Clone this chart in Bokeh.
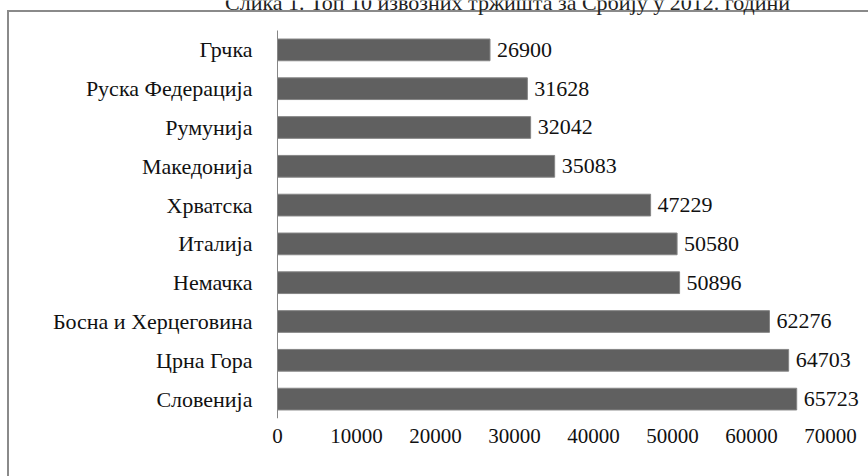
from bokeh.plotting import figure
from bokeh.models import ColumnDataSource, Range1d, Label, FixedTicker
from bokeh.core.properties import value
from bokeh.embed import file_html
from bokeh.resources import INLINE

title_text = "Слика 1. Топ 10 извозних тржишта за Србију у 2012. години"
countries = ["Грчка", "Руска Федерација", "Румунија", "Македонија", "Хрватска",
             "Италија", "Немачка", "Босна и Херцеговина", "Црна Гора", "Словенија"]
values = [26900, 31628, 32042, 35083, 47229, 50580, 50896, 62276, 64703, 65723]
x_ticks = [0, 10000, 20000, 30000, 40000, 50000, 60000, 70000]

FONT = "Liberation Serif"

n = len(countries)
ypos = [n - 0.5 - i for i in range(n)]

src = ColumnDataSource(dict(country=countries, y=ypos, value=values,
                            label=[str(v) for v in values]))

p = figure(width=868, height=476,
           y_range=Range1d(0, 10.773),
           x_range=Range1d(-35064, 74810),
           output_backend="svg", toolbar_location=None,
           min_border_left=0, min_border_right=0,
           min_border_top=0, min_border_bottom=58)
p.border_fill_color = None
p.background_fill_color = None
p.styles = {
    "background": "linear-gradient(#8a8a8a,#8a8a8a) 7px 10px / 100% 2px no-repeat, "
                  "linear-gradient(#8a8a8a,#8a8a8a) 7px 10px / 2px 100% no-repeat, white"
}

p.hbar(y="y", left=0, right="value", height=0.56, source=src,
       fill_color="#606060", line_color="#858585", line_width=1)
p.text(x="value", y="y", text="label", source=src, x_offset=7,
       text_baseline="middle", text_align="left",
       text_font=value(FONT), text_font_size="22px", text_color="#111111")

p.xaxis.ticker = FixedTicker(ticks=x_ticks)
p.xaxis.axis_line_color = None
p.xaxis.major_tick_line_color = None
p.xaxis.minor_tick_line_color = None
p.xaxis.major_label_standoff = 4
p.xaxis.major_label_text_font = FONT
p.xaxis.major_label_text_font_size = "21px"
p.xaxis.major_label_text_color = "#111111"

p.yaxis.fixed_location = 0
p.yaxis.ticker = FixedTicker(ticks=ypos)
p.yaxis.major_label_overrides = {y: c for y, c in zip(ypos, countries)}
p.yaxis.bounds = (0, n)
p.yaxis.axis_line_color = "#868686"
p.yaxis.major_tick_line_color = None
p.yaxis.minor_tick_line_color = None
p.yaxis.major_label_standoff = 19
p.yaxis.major_label_text_font = FONT
p.yaxis.major_label_text_font_size = "22px"
p.yaxis.major_label_text_color = "#111111"

p.xgrid.grid_line_color = None
p.ygrid.grid_line_color = None
p.outline_line_color = None

p.add_layout(Label(x=507, y=2, x_units="canvas", y_units="canvas", text=title_text,
                   text_align="center", text_baseline="alphabetic",
                   text_font=FONT, text_font_size="22px", text_color="#222222"))

open("out.html", "w").write(file_html(p, INLINE))
